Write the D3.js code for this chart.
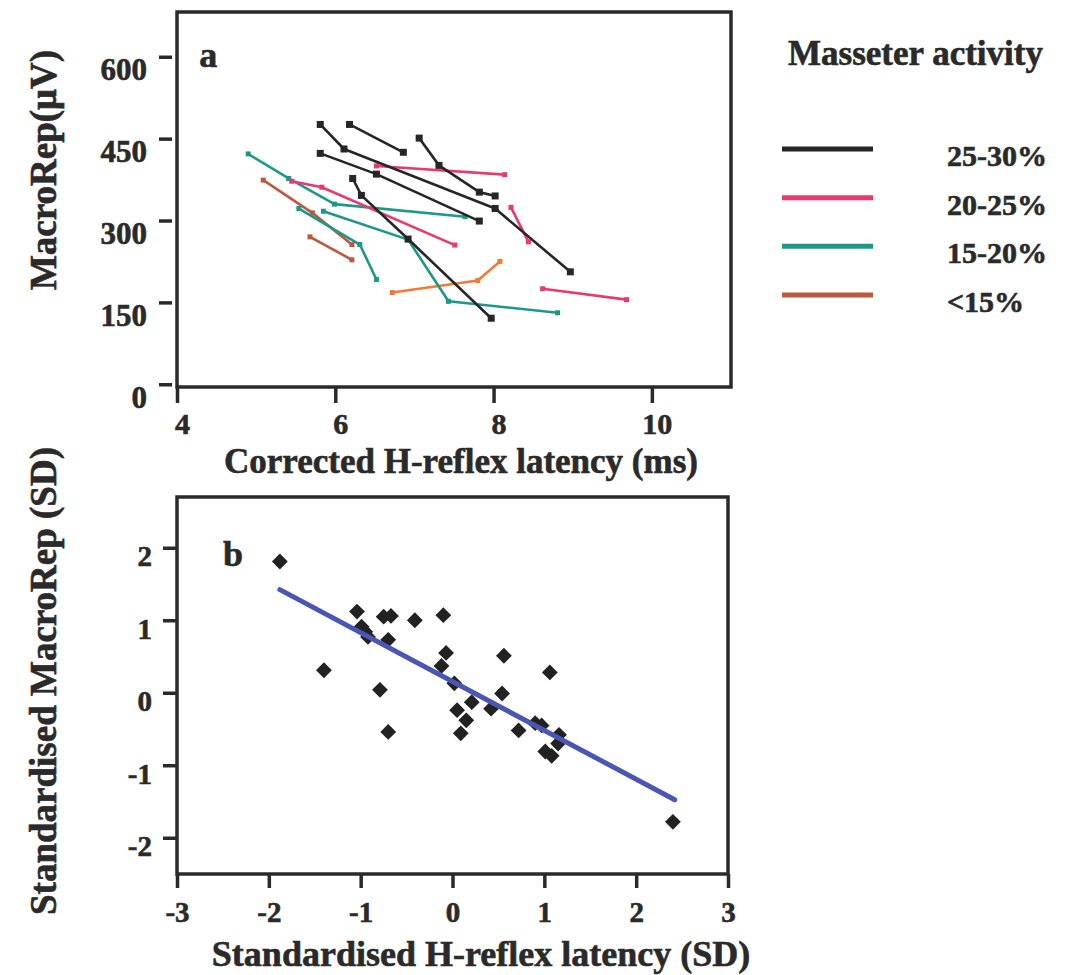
<!DOCTYPE html>
<html>
<head>
<meta charset="utf-8">
<script src="https://cdn.jsdelivr.net/npm/d3@7"></script>
<style>
  html, body { margin: 0; padding: 0; background: #fff; }
  svg { display: block; }
  text { font-family: "Liberation Serif", "Times New Roman", serif; font-weight: bold; fill: #2a2a2a; stroke: #2a2a2a; stroke-width: 0.6px; }
</style>
</head>
<body>
<svg id="chart" width="1067" height="975"></svg>
<script>
// ---------- DATA ----------
const categories = ["25-30%", "20-25%", "15-20%", "<15%"];

// Panel a: each line = one subject, points [latency (ms), MacroRep (µV)]
const lines25to30 = [
  [[5.81, 476], [6.11, 431], [8.02, 322], [8.97, 206]],
  [[5.81, 423], [6.52, 385], [7.82, 299]],
  [[6.18, 476], [6.86, 425]],
  [[7.06, 451], [7.31, 401], [7.82, 352], [8.02, 345]],
  [[6.22, 377], [6.33, 346], [6.92, 266], [7.97, 121]]
];
const lines20to25 = [
  [[6.52, 400], [8.14, 384]],
  [[5.45, 372], [5.83, 361], [7.51, 255]],
  [[8.22, 324], [8.44, 261]],
  [[8.62, 175], [9.68, 155]]
];
const lines15to20 = [
  [[4.90, 422], [5.41, 377], [5.99, 330], [7.64, 307]],
  [[5.54, 322], [6.31, 256], [6.52, 192]],
  [[5.85, 317], [6.92, 265], [7.43, 152], [8.81, 131]]
];
const linesBelow15 = [
  [[5.09, 374], [5.71, 314], [6.21, 256]],
  [[5.68, 270], [6.21, 228]]
];
const linesBelow15Orange = [
  [[6.72, 168], [7.80, 190], [8.08, 225]]
];

// Panel b: standardised values
const stdLatency = [-1.88, -1.40, -1.04, -0.99, -0.95, -0.92, -0.75, -0.67, -0.70, -0.79,
  -0.70, -0.41, -0.10, -0.07, -0.12, 0.02, 0.05, 0.15, 0.09, 0.21,
  0.42, 0.54, 0.56, 0.72, 0.90, 0.97, 1.06, 1.16, 1.15, 1.01, 1.08, 2.40];
const stdMacroRep = [1.81, 0.31, 1.12, 0.91, 0.84, 0.77, 1.05, 1.06, 0.73, 0.04,
  -0.54, 1.00, 1.07, 0.55, 0.37, 0.13, -0.24, -0.38, -0.56, -0.13,
  -0.22, -0.01, 0.51, -0.52, -0.42, -0.45, 0.28, -0.58, -0.70, -0.81, -0.87, -1.78];
const fitRangeX = [-1.88, 2.42];
const fitSlope = -0.674;
const fitIntercept = 0.155;

// Tick values
const xTicksA = [4, 6, 8, 10];
const yTicksA = [0, 150, 300, 450, 600];
const xTicksB = [-3, -2, -1, 0, 1, 2, 3];
const yTicksB = [-2, -1, 0, 1, 2];

// ---------- STYLE ----------
const ink = "#2a2a2a";
const catColor = {
  "25-30%": "#262626",
  "20-25%": "#ea3a6c",
  "15-20%": "#1c9886",
  "<15%": "#bd5740"
};
const orangeColor = "#f07a36";

const svg = d3.select("#chart");

// ---------- PANEL A ----------
const xA = d3.scaleLinear().domain([4, 11]).range([177, 731]);
const yA = d3.scaleLinear().domain([-5, 682]).range([387, 12]);

const gA = svg.append("g");

const lineGen = d3.line().x(d => xA(d[0])).y(d => yA(d[1]));

const groupsA = [
  { key: "<15%", color: catColor["<15%"], lines: linesBelow15, mk: 5 },
  { key: "<15%o", color: orangeColor, lines: linesBelow15Orange, mk: 5 },
  { key: "15-20%", color: catColor["15-20%"], lines: lines15to20, mk: 5 },
  { key: "20-25%", color: catColor["20-25%"], lines: lines20to25, mk: 5 },
  { key: "25-30%", color: catColor["25-30%"], lines: lines25to30, mk: 7 }
];

groupsA.forEach(grp => {
  const g = gA.append("g");
  grp.lines.forEach(pts => {
    g.append("path")
      .attr("d", lineGen(pts))
      .attr("fill", "none")
      .attr("stroke", grp.color)
      .attr("stroke-width", 2.6)
      .attr("stroke-linejoin", "round");
    g.selectAll(null).data(pts).enter().append("rect")
      .attr("x", d => xA(d[0]) - grp.mk / 2)
      .attr("y", d => yA(d[1]) - grp.mk / 2)
      .attr("width", grp.mk)
      .attr("height", grp.mk)
      .attr("fill", grp.color);
  });
});

// frame A
gA.append("rect")
  .attr("x", xA.range()[0]).attr("y", yA.range()[1])
  .attr("width", xA.range()[1] - xA.range()[0])
  .attr("height", yA.range()[0] - yA.range()[1])
  .attr("fill", "none").attr("stroke", ink).attr("stroke-width", 3.5);

// y axis A
const yAxisA = gA.append("g").attr("transform", "translate(172,0)")
  .call(d3.axisLeft(yA).tickValues(yTicksA).tickSize(13).tickPadding(12).tickFormat(d3.format("d")));
yAxisA.select(".domain").remove();
yAxisA.selectAll("line").attr("stroke", ink).attr("stroke-width", 3.5);
yAxisA.selectAll("text").attr("dy", null).attr("y", 23)
  .style("font-size", "31px").attr("fill", ink);

// x axis A
const xAxisA = gA.append("g").attr("transform", `translate(0,${yA.range()[0]})`)
  .call(d3.axisBottom(xA).tickValues(xTicksA).tickSize(16).tickPadding(0).tickFormat(d3.format("d")));
xAxisA.select(".domain").remove();
xAxisA.selectAll("line").attr("stroke", ink).attr("stroke-width", 3.5);
xAxisA.selectAll("text").attr("dy", null).attr("y", 47).attr("dx", 5)
  .style("font-size", "30px").attr("fill", ink);

// panel letter & titles A
gA.append("text").attr("x", xA(4.28)).attr("y", yA(582)).text("a").style("font-size", "36px");
gA.append("text").attr("x", 461).attr("y", 473).attr("text-anchor", "middle")
  .style("font-size", "35px").text("Corrected H-reflex latency (ms)");
gA.append("text").attr("transform", "translate(56,170) rotate(-90)").attr("text-anchor", "middle")
  .style("font-size", "37px").text("MacroRep(\u03BCV)");

// legend
const legend = svg.append("g");
legend.append("text").attr("x", 788).attr("y", 65).style("font-size", "35px").text("Masseter activity");
const legY = d3.scaleLinear().domain([0, categories.length - 1]).range([149, 295]);
categories.forEach((c, i) => {
  legend.append("line")
    .attr("x1", 782).attr("x2", 873)
    .attr("y1", legY(i)).attr("y2", legY(i))
    .attr("stroke", catColor[c]).attr("stroke-width", 5);
  legend.append("text").attr("x", 947).attr("y", legY(i) + 17)
    .style("font-size", "30px").text(c);
});

// ---------- PANEL B ----------
const xB = d3.scaleLinear().domain([-3, 3]).range([177, 728]);
const yB = d3.scaleLinear().domain([-2.5, 2.7]).range([874, 497]);
const gB = svg.append("g");

const ptsB = stdLatency.map((x, i) => [x, stdMacroRep[i]]);
const diamond = d3.symbol().type(d3.symbolSquare).size(125);
gB.selectAll("path.pt").data(ptsB).enter().append("path")
  .attr("class", "pt")
  .attr("d", diamond)
  .attr("transform", d => `translate(${xB(d[0])},${yB(d[1])}) rotate(45)`)
  .attr("fill", "#222");

// regression line
const fitPts = fitRangeX.map(x => [x, fitIntercept + fitSlope * x]);
gB.append("path")
  .attr("d", d3.line().x(d => xB(d[0])).y(d => yB(d[1]))(fitPts))
  .attr("stroke", "#4a56b2").attr("stroke-width", 5).attr("fill", "none")
  .attr("stroke-linecap", "round");

// frame B
gB.append("rect")
  .attr("x", xB.range()[0]).attr("y", yB.range()[1])
  .attr("width", xB.range()[1] - xB.range()[0])
  .attr("height", yB.range()[0] - yB.range()[1])
  .attr("fill", "none").attr("stroke", ink).attr("stroke-width", 3.5);

const yAxisB = gB.append("g").attr("transform", `translate(${xB.range()[0]},0)`)
  .call(d3.axisLeft(yB).tickValues(yTicksB).tickSize(14).tickPadding(11).tickFormat(d3.format("d")));
yAxisB.select(".domain").remove();
yAxisB.selectAll("line").attr("stroke", ink).attr("stroke-width", 3.5);
yAxisB.selectAll("text").attr("dy", null).attr("y", 18)
  .style("font-size", "29px").attr("fill", ink)
  .text(d => d < 0 ? "-" + Math.abs(d) : d);

const xAxisB = gB.append("g").attr("transform", `translate(0,${yB.range()[0]})`)
  .call(d3.axisBottom(xB).tickValues(xTicksB).tickSize(14).tickPadding(0).tickFormat(d3.format("d")));
xAxisB.select(".domain").remove();
xAxisB.selectAll("line").attr("stroke", ink).attr("stroke-width", 3.5);
xAxisB.selectAll("text").attr("dy", null).attr("y", 48)
  .style("font-size", "29px").attr("fill", ink)
  .text(d => d < 0 ? "-" + Math.abs(d) : d);

gB.append("text").attr("x", xB(-2.5)).attr("y", yB(1.75)).text("b").style("font-size", "36px");
gB.append("text").attr("x", 481).attr("y", 966).attr("text-anchor", "middle")
  .style("font-size", "36px").text("Standardised H-reflex latency (SD)");
gB.append("text").attr("transform", "translate(56,681) rotate(-90)").attr("text-anchor", "middle")
  .style("font-size", "37px").text("Standardised MacroRep (SD)");
</script>
</body>
</html>
